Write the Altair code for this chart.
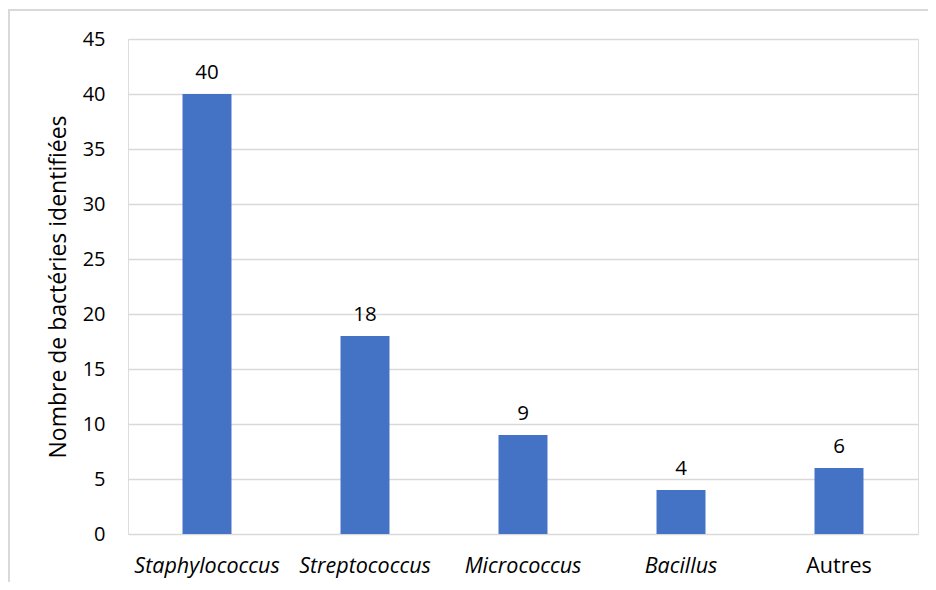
import altair as alt
import pandas as pd

categories = ["Staphylococcus", "Streptococcus", "Micrococcus", "Bacillus", "Autres"]
counts = [40, 18, 9, 4, 6]
y_ticks = [0, 5, 10, 15, 20, 25, 30, 35, 40, 45]

df = pd.DataFrame({"genre": categories, "n": counts})

FONT = "Open Sans"
BLUE = "#4472C4"
GRID = "#d9d9d9"

x = alt.X(
    "genre:N",
    sort=categories,
    scale=alt.Scale(paddingInner=0.69, paddingOuter=0.345),
    axis=alt.Axis(
        title=None,
        labelAngle=0,
        labelFont=FONT,
        labelFontSize=21.5,
        labelColor="#000000",
        labelPadding=21,
        ticks=False,
        domain=False,
        labelFontStyle={"condition": {"test": "datum.value === 'Autres'", "value": "normal"}, "value": "italic"},
    ),
)
y = alt.Y(
    "n:Q",
    scale=alt.Scale(domain=[0, 45], nice=False),
    axis=alt.Axis(
        values=y_ticks,
        title="Nombre de bactéries identifiées",
        titleFont=FONT,
        titleFontSize=23,
        titleFontWeight="normal",
        titleColor="#000000",
        titlePadding=12,
        labelFont=FONT,
        labelFontSize=20,
        labelColor="#000000",
        labelPadding=23,
        ticks=False,
        domain=False,
        gridColor=GRID,
        gridWidth=1.3,
    ),
)

bars = alt.Chart(df).mark_bar(color=BLUE).encode(x=x, y=y)
labels = alt.Chart(df).mark_text(
    baseline="bottom", dy=-11, font=FONT, fontSize=20.5, color="#000000"
).encode(x=alt.X("genre:N", sort=categories), y="n:Q", text="n:Q")

border_top = alt.Chart(df).mark_rule(color=GRID, strokeWidth=1.5).encode(
    x=alt.value(-120), x2=alt.value(800), y=alt.value(-29)
)
border_left = alt.Chart(df).mark_rule(color=GRID, strokeWidth=1.5).encode(
    x=alt.value(-119), y=alt.value(-29), y2=alt.value(545)
)

chart = (
    alt.layer(bars, labels, border_top, border_left)
    .properties(
        width=790,
        height=495,
        autosize=alt.AutoSizeParams(type="none"),
        padding={"left": 120, "top": 31, "right": 10, "bottom": 48},
    )
    .configure_view(stroke=None)
    .configure(background="white")
)

chart.save("out.html", embed_options={"renderer": "svg", "actions": False})
